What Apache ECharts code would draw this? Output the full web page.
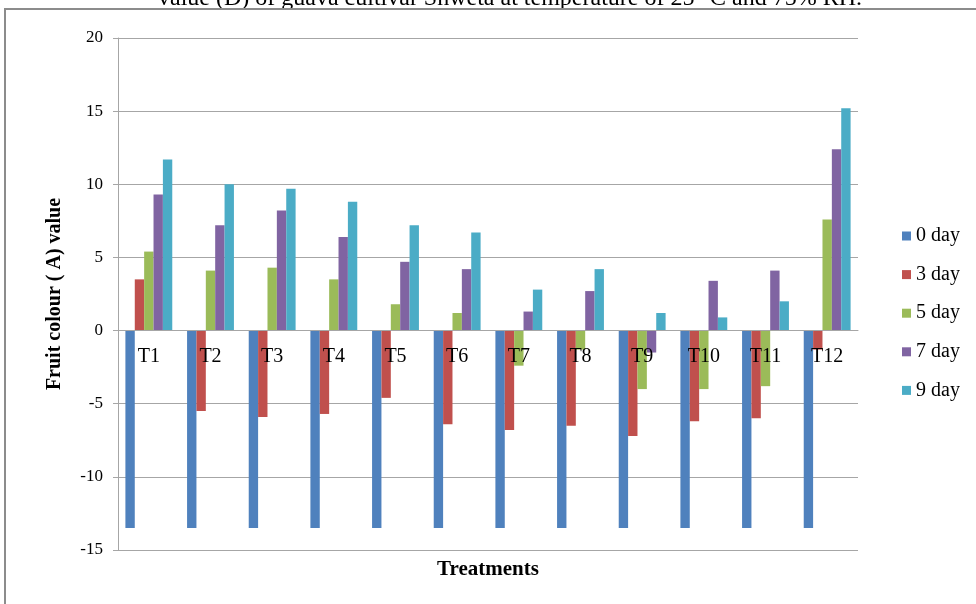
<!DOCTYPE html>
<html>
<head>
<meta charset="utf-8">
<script src="https://cdn.jsdelivr.net/npm/echarts@6/dist/echarts.min.js"></script>
<style>
  html, body { margin: 0; padding: 0; background: #fff; }
  #chart { width: 976px; height: 604px; }
</style>
</head>
<body>
<div id="chart"></div>
<script>
// Treatments on the category axis
const treatments = ['T1', 'T2', 'T3', 'T4', 'T5', 'T6', 'T7', 'T8', 'T9', 'T10', 'T11', 'T12'];

// Fruit colour (A) value by storage day
const day0 = [-13.5, -13.5, -13.5, -13.5, -13.5, -13.5, -13.5, -13.5, -13.5, -13.5, -13.5, -13.5];
const day3 = [3.5, -5.5, -5.9, -5.7, -4.6, -6.4, -6.8, -6.5, -7.2, -6.2, -6.0, -1.3];
const day5 = [5.4, 4.1, 4.3, 3.5, 1.8, 1.2, -2.4, -1.3, -4.0, -4.0, -3.8, 7.6];
const day7 = [9.3, 7.2, 8.2, 6.4, 4.7, 4.2, 1.3, 2.7, -1.5, 3.4, 4.1, 12.4];
const day9 = [11.7, 10.0, 9.7, 8.8, 7.2, 6.7, 2.8, 4.2, 1.2, 0.9, 2.0, 15.2];

const seriesNames = ['0 day', '3 day', '5 day', '7 day', '9 day'];
const seriesData = [day0, day3, day5, day7, day9];
const colors = ['#4f81bd', '#c0504d', '#9bbb59', '#8064a2', '#4bacc6'];

const FONT = '"Liberation Serif", "Times New Roman", serif';
const GRID_COLOR = '#a6a6a6';

// value axis range
const Y_MIN = -15, Y_MAX = 20, Y_STEP = 5;
const GRID_TOP = 38, GRID_BOTTOM = 54, CHART_H = 604;
// lift the category axis (line + labels) from the bottom edge up to the zero line
const plotH = CHART_H - GRID_TOP - GRID_BOTTOM;
const zeroLift = plotH * (0 - Y_MIN) / (Y_MAX - Y_MIN);

const chart = echarts.init(document.getElementById('chart'), null, { renderer: 'canvas' });

chart.setOption({
  backgroundColor: '#ffffff',
  animation: false,
  color: colors,
  grid: { left: 118, right: 118, top: GRID_TOP, bottom: GRID_BOTTOM, containLabel: false },
  legend: {
    orient: 'vertical',
    left: 897,
    top: 221,
    itemWidth: 9,
    itemHeight: 9,
    itemGap: 18.6,
    icon: 'rect',
    textStyle: { fontFamily: FONT, fontSize: 20, color: '#000' },
    data: seriesNames
  },
  xAxis: {
    type: 'category',
    data: treatments,
    position: 'bottom',
    offset: -zeroLift,
    z: 5,
    axisLine: { onZero: false, lineStyle: { color: GRID_COLOR, width: 1 } },
    axisTick: { show: false },
    axisLabel: { fontFamily: FONT, fontSize: 20, color: '#000', margin: 16 },
    splitLine: { show: false }
  },
  yAxis: {
    type: 'value',
    min: Y_MIN,
    max: Y_MAX,
    interval: Y_STEP,
    name: 'Fruit colour ( A) value',
    nameLocation: 'middle',
    nameGap: 53,
    nameTextStyle: { fontFamily: FONT, fontSize: 20, fontWeight: 'bold', color: '#000' },
    axisLine: { show: true, lineStyle: { color: GRID_COLOR, width: 1 } },
    axisTick: { show: true, length: 5, lineStyle: { color: GRID_COLOR } },
    axisLabel: { fontFamily: FONT, fontSize: 17, color: '#000', margin: 15 },
    splitLine: { lineStyle: { color: GRID_COLOR, width: 1 } }
  },
  series: seriesNames.map((name, i) => ({
    name: name,
    type: 'bar',
    z: 2,
    data: seriesData[i],
    barGap: '0%',
    barCategoryGap: '24%',
    itemStyle: { color: colors[i] }
  })),
  graphic: [
    {
      type: 'text',
      x: 510,
      y: 11,
      style: {
        text: 'value (D) of guava cultivar Shweta at temperature of 25 °C and 75% RH.',
        font: '24px ' + FONT,
        fill: '#000',
        align: 'center',
        verticalAlign: 'bottom'
      }
    },
    {
      type: 'rect',
      shape: { x: 5, y: 9, width: 1000, height: 700 },
      style: { fill: 'none', stroke: '#8c8c8c', lineWidth: 2 },
      silent: true
    },
    {
      type: 'text',
      x: 488,
      y: 570,
      style: {
        text: 'Treatments',
        font: 'bold 21px ' + FONT,
        fill: '#000',
        align: 'center',
        verticalAlign: 'middle'
      }
    }
  ]
});
</script>
</body>
</html>
